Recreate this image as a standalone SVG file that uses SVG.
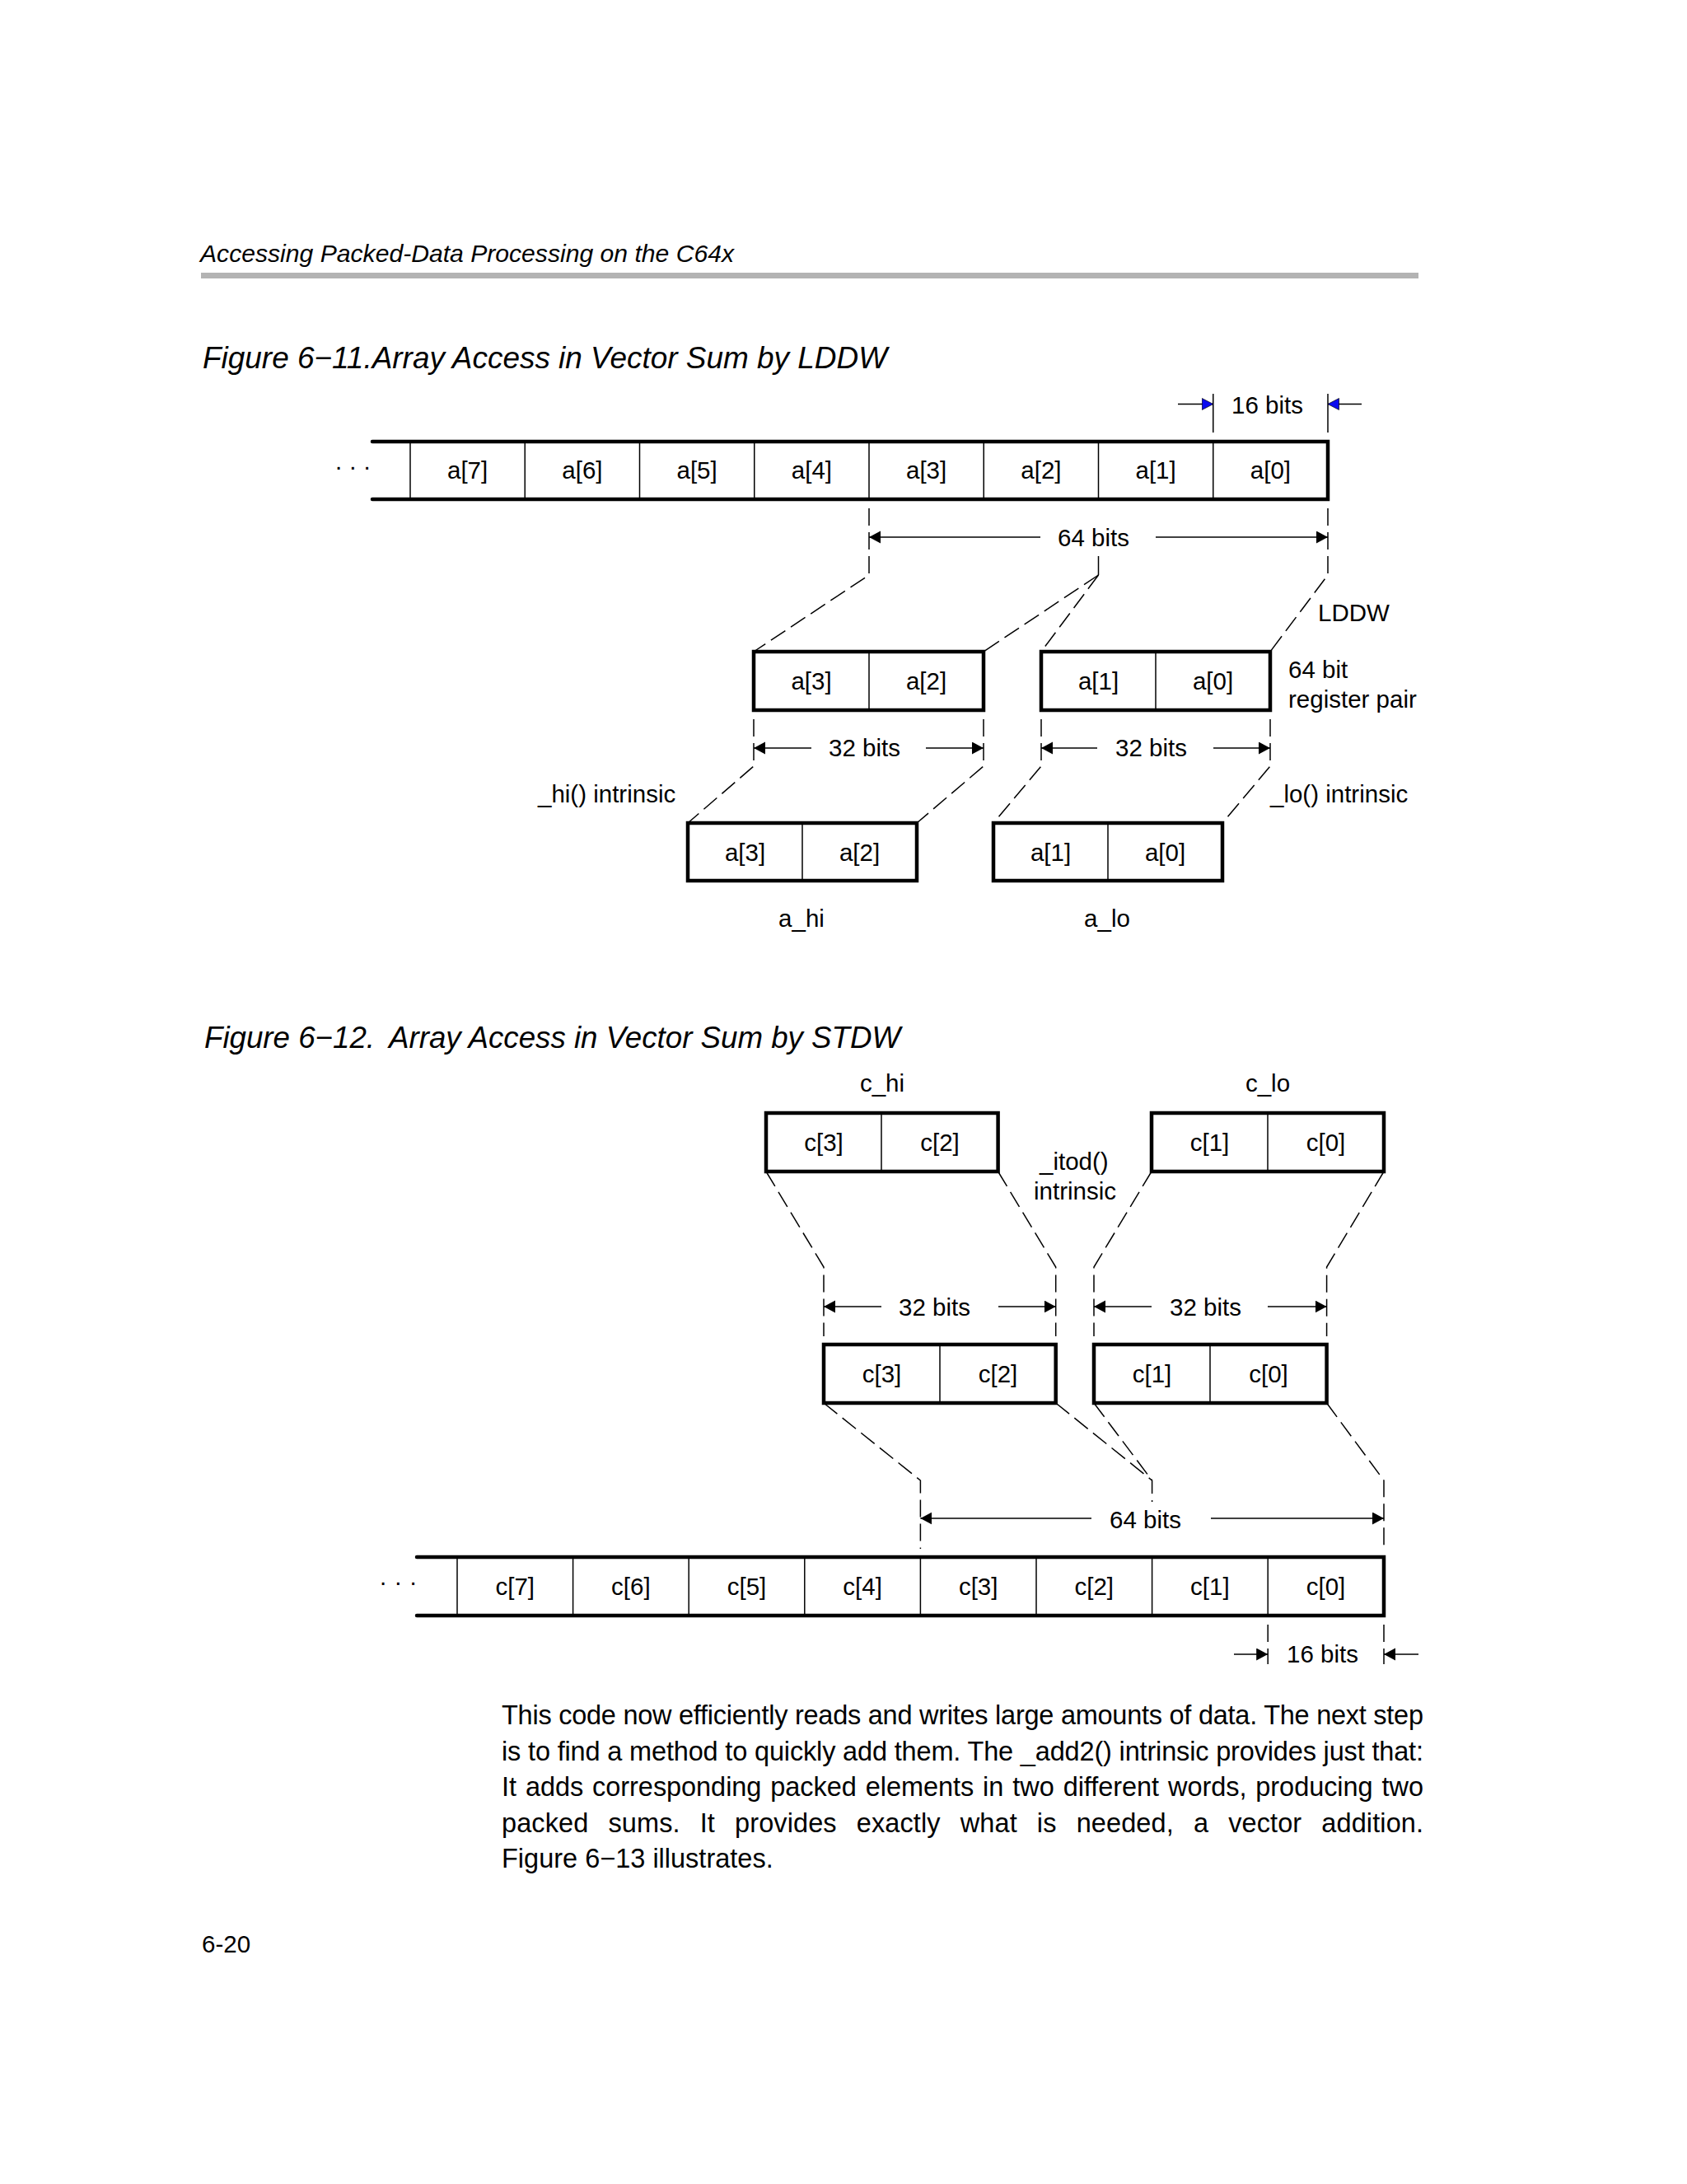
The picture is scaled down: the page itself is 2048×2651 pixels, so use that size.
<svg xmlns="http://www.w3.org/2000/svg" width="2048" height="2651" viewBox="0 0 2048 2651">
<style>
text{font-family:"Liberation Sans",Arial,Helvetica,sans-serif;fill:#000}
.hdr{font-size:29.5px;font-style:italic}
.ttl{font-size:36.7px;font-style:italic}
.lbl{font-size:29.5px}
.cell{font-size:29.5px;text-anchor:middle}
.body{font-size:32.5px}
.thick{fill:none;stroke:#000;stroke-width:4.5;stroke-linecap:round;stroke-linejoin:miter}
.box{fill:#fff;stroke:#000;stroke-width:4.5}
.thin{stroke:#000;stroke-width:1.5;fill:none}
.dash{stroke:#000;stroke-width:1.5;fill:none;stroke-dasharray:21 8}
.dim{stroke:#000;stroke-width:1.5;fill:none;marker-end:url(#ah)}
.dimb{stroke:#000;stroke-width:1.5;fill:none;marker-end:url(#ahb)}
</style>
<defs>
<marker id="ah" markerUnits="userSpaceOnUse" viewBox="0 0 16 16" markerWidth="16" markerHeight="16" refX="14" refY="7.5" orient="auto"><path d="M0,0 L14,7.5 L0,15 z" fill="#000"/></marker>
<marker id="ahb" markerUnits="userSpaceOnUse" viewBox="0 0 16 16" markerWidth="16" markerHeight="16" refX="14" refY="7.5" orient="auto"><path d="M0.5,0.5 L14,7.5 L0.5,14.5 z" fill="#0a0aef" stroke="#000" stroke-width="0.7"/></marker>
</defs>
<rect width="2048" height="2651" fill="#fff"/>

<g id="page-header">
<text class="hdr" x="243" y="318" textLength="648" lengthAdjust="spacingAndGlyphs">Accessing Packed-Data Processing on the C64x</text>
<rect x="244" y="331" width="1478" height="7" fill="#b3b3b3"/>
</g>

<g id="title-6-11"><text class="ttl" x="246" y="447" textLength="831" lengthAdjust="spacingAndGlyphs">Figure 6−11.Array Access in Vector Sum by LDDW</text></g>

<!-- Figure 6-11 nodes -->
<g id="array-a">
<path class="thick" d="M452,536 H1612 V606 H452"/>
<g class="thin">
<line x1="498" y1="536" x2="498" y2="606"/><line x1="637.25" y1="536" x2="637.25" y2="606"/><line x1="776.5" y1="536" x2="776.5" y2="606"/><line x1="915.75" y1="536" x2="915.75" y2="606"/><line x1="1055" y1="536" x2="1055" y2="606"/><line x1="1194.25" y1="536" x2="1194.25" y2="606"/><line x1="1333.5" y1="536" x2="1333.5" y2="606"/><line x1="1472.75" y1="536" x2="1472.75" y2="606"/>
</g>
<text class="lbl" x="407" y="570" letter-spacing="9">...</text>
<text class="cell" x="567.6" y="581">a[7]</text><text class="cell" x="706.9" y="581">a[6]</text><text class="cell" x="846.1" y="581">a[5]</text><text class="cell" x="985.4" y="581">a[4]</text><text class="cell" x="1124.6" y="581">a[3]</text><text class="cell" x="1263.9" y="581">a[2]</text><text class="cell" x="1403.1" y="581">a[1]</text><text class="cell" x="1542.4" y="581">a[0]</text>
</g>

<g id="reg-a32">
<rect class="box" x="915" y="791" width="279" height="71"/>
<line class="thin" x1="1055" y1="791" x2="1055" y2="862"/>
<text class="cell" x="985" y="837">a[3]</text><text class="cell" x="1124.5" y="837">a[2]</text>
</g>
<g id="reg-a10">
<rect class="box" x="1264" y="791" width="278" height="71"/>
<line class="thin" x1="1403" y1="791" x2="1403" y2="862"/>
<text class="cell" x="1333.5" y="837">a[1]</text><text class="cell" x="1472.5" y="837">a[0]</text>
</g>
<g id="a-hi">
<rect class="box" x="835" y="999" width="278" height="70"/>
<line class="thin" x1="974" y1="999" x2="974" y2="1069"/>
<text class="cell" x="904.5" y="1045">a[3]</text><text class="cell" x="1043.5" y="1045">a[2]</text>
</g>
<g id="a-lo">
<rect class="box" x="1206" y="999" width="278" height="70"/>
<line class="thin" x1="1345" y1="999" x2="1345" y2="1069"/>
<text class="cell" x="1275.5" y="1045">a[1]</text><text class="cell" x="1414.5" y="1045">a[0]</text>
</g>

<g id="labels-6-11">
<text class="lbl" x="1495" y="502">16 bits</text>
<text class="lbl" x="1284" y="663">64 bits</text>
<text class="lbl" x="1600" y="754">LDDW</text>
<text class="lbl" x="1564" y="823">64 bit</text>
<text class="lbl" x="1564" y="859">register pair</text>
<text class="lbl" x="1006" y="918">32 bits</text>
<text class="lbl" x="1354" y="918">32 bits</text>
<text class="lbl" x="653" y="974">_hi() intrinsic</text>
<text class="lbl" x="1542" y="974">_lo() intrinsic</text>
<text class="cell" x="973" y="1125">a_hi</text>
<text class="cell" x="1344" y="1125">a_lo</text>
</g>

<g id="connectors-6-11">
<!-- 16 bits -->
<line class="thin" x1="1472.75" y1="478" x2="1472.75" y2="525"/>
<line class="thin" x1="1612" y1="478" x2="1612" y2="525"/>
<line class="dimb" x1="1430" y1="490.5" x2="1472.75" y2="490.5"/>
<line class="dimb" x1="1653" y1="490.5" x2="1612" y2="490.5"/>
<!-- 64 bits -->
<path class="dash" d="M1055,617 V698 L915,791"/>
<path class="dash" d="M1612,617 V698 L1542,791"/>
<line class="thin" x1="1333.5" y1="675" x2="1333.5" y2="698"/>
<path class="dash" d="M1333.5,698 L1194,791"/>
<path class="dash" d="M1333.5,698 L1264,791"/>
<line class="dim" x1="1263" y1="652" x2="1055" y2="652"/>
<line class="dim" x1="1403" y1="652" x2="1612" y2="652"/>
<!-- 32 bits -->
<path class="dash" d="M915,873 V930 L835,999"/>
<path class="dash" d="M1194,873 V930 L1113,999"/>
<path class="dash" d="M1264,873 V930 L1206,999"/>
<path class="dash" d="M1542,873 V930 L1484,999"/>
<line class="dim" x1="985" y1="908" x2="915" y2="908"/>
<line class="dim" x1="1124" y1="908" x2="1194" y2="908"/>
<line class="dim" x1="1332" y1="908" x2="1264" y2="908"/>
<line class="dim" x1="1473" y1="908" x2="1542" y2="908"/>
</g>

<g id="title-6-12"><text class="ttl" x="248" y="1272">Figure 6−12.<tspan x="472">Array Access in Vector Sum by STDW</tspan></text></g>

<!-- Figure 6-12 nodes -->
<g id="c-hi">
<rect class="box" x="930" y="1351" width="281.6" height="71"/>
<line class="thin" x1="1070" y1="1351" x2="1070" y2="1422"/>
<text class="cell" x="1000" y="1397">c[3]</text><text class="cell" x="1141" y="1397">c[2]</text>
</g>
<g id="c-lo">
<rect class="box" x="1398" y="1351" width="282" height="71"/>
<line class="thin" x1="1539" y1="1351" x2="1539" y2="1422"/>
<text class="cell" x="1468.5" y="1397">c[1]</text><text class="cell" x="1609.5" y="1397">c[0]</text>
</g>
<g id="reg-c32">
<rect class="box" x="1000" y="1632" width="281.7" height="71"/>
<line class="thin" x1="1141" y1="1632" x2="1141" y2="1703"/>
<text class="cell" x="1070.5" y="1678">c[3]</text><text class="cell" x="1211.5" y="1678">c[2]</text>
</g>
<g id="reg-c10">
<rect class="box" x="1328" y="1632" width="282.6" height="71"/>
<line class="thin" x1="1469" y1="1632" x2="1469" y2="1703"/>
<text class="cell" x="1398.5" y="1678">c[1]</text><text class="cell" x="1540" y="1678">c[0]</text>
</g>
<g id="array-c">
<path class="thick" d="M506,1890 H1680 V1961 H506"/>
<g class="thin">
<line x1="555" y1="1890" x2="555" y2="1961"/><line x1="695.6" y1="1890" x2="695.6" y2="1961"/><line x1="836.2" y1="1890" x2="836.2" y2="1961"/><line x1="976.8" y1="1890" x2="976.8" y2="1961"/><line x1="1117.4" y1="1890" x2="1117.4" y2="1961"/><line x1="1258" y1="1890" x2="1258" y2="1961"/><line x1="1398.6" y1="1890" x2="1398.6" y2="1961"/><line x1="1539.2" y1="1890" x2="1539.2" y2="1961"/>
</g>
<text class="lbl" x="461" y="1924" letter-spacing="10">...</text>
<text class="cell" x="625.3" y="1936">c[7]</text><text class="cell" x="765.9" y="1936">c[6]</text><text class="cell" x="906.5" y="1936">c[5]</text><text class="cell" x="1047.1" y="1936">c[4]</text><text class="cell" x="1187.7" y="1936">c[3]</text><text class="cell" x="1328.3" y="1936">c[2]</text><text class="cell" x="1468.9" y="1936">c[1]</text><text class="cell" x="1609.5" y="1936">c[0]</text>
</g>

<g id="labels-6-12">
<text class="cell" x="1071" y="1325">c_hi</text>
<text class="cell" x="1539" y="1325">c_lo</text>
<text class="lbl" x="1262" y="1420">_itod()</text>
<text class="lbl" x="1255" y="1456">intrinsic</text>
<text class="lbl" x="1091" y="1597">32 bits</text>
<text class="lbl" x="1420" y="1597">32 bits</text>
<text class="lbl" x="1347" y="1855">64 bits</text>
<text class="lbl" x="1562" y="2018">16 bits</text>
</g>

<g id="connectors-6-12">
<path class="dash" d="M930,1422 L1000,1538 V1622"/>
<path class="dash" d="M1211.6,1422 L1281.7,1538 V1622"/>
<path class="dash" d="M1398,1422 L1328,1538 V1622"/>
<path class="dash" d="M1680,1422 L1610.6,1538 V1622"/>
<line class="dim" x1="1070" y1="1586" x2="1000" y2="1586"/>
<line class="dim" x1="1212" y1="1586" x2="1281.7" y2="1586"/>
<line class="dim" x1="1398" y1="1586" x2="1328" y2="1586"/>
<line class="dim" x1="1539" y1="1586" x2="1610.6" y2="1586"/>
<path class="dash" d="M1000,1703 L1117.4,1797 V1880"/>
<path class="dash" d="M1281.7,1703 L1398.6,1797 V1823"/>
<path class="dash" d="M1328,1703 L1398.6,1797"/>
<path class="dash" d="M1610.6,1703 L1680,1797 V1880"/>
<line class="dim" x1="1325" y1="1843" x2="1117.4" y2="1843"/>
<line class="dim" x1="1470" y1="1843" x2="1680" y2="1843"/>
<path class="dash" d="M1539.2,1972 V2020"/>
<path class="dash" d="M1680,1972 V2020"/>
<line class="dim" x1="1498" y1="2008" x2="1539.2" y2="2008"/>
<line class="dim" x1="1722" y1="2008" x2="1680" y2="2008"/>
</g>

<g id="body-text">
<text class="body" x="609" y="2093" textLength="1119" lengthAdjust="spacing">This code now efficiently reads and writes large amounts of data. The next step</text>
<text class="body" x="609" y="2136.5" textLength="1119" lengthAdjust="spacing">is to find a method to quickly add them. The _add2() intrinsic provides just that:</text>
<text class="body" x="609" y="2180" textLength="1119" lengthAdjust="spacing" word-spacing="2">It adds corresponding packed elements in two different words, producing two</text>
<text class="body" x="609" y="2223.5" textLength="1119" lengthAdjust="spacing" word-spacing="15">packed sums. It provides exactly what is needed, a vector addition.</text>
<text class="body" x="609" y="2267">Figure 6−13 illustrates.</text>
</g>

<g id="page-number"><text class="lbl" x="245" y="2370">6-20</text></g>
</svg>
